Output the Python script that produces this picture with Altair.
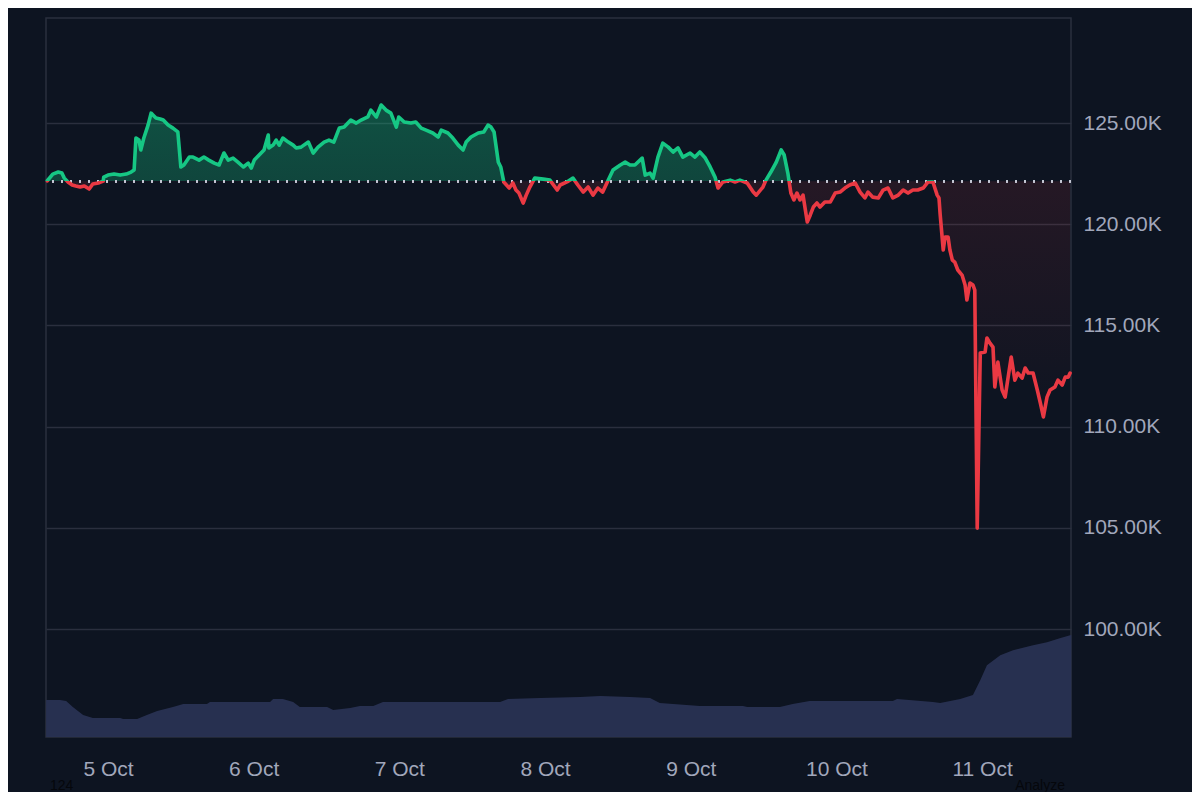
import altair as alt
import pandas as pd

# ---------------- data ----------------
START = pd.Timestamp("2025-10-04 14:00:00")

# hours after START
HOURS = [
    0.0, 0.9, 1.8, 2.4, 2.8, 3.4, 4.1, 4.7, 5.4, 6.1, 6.9, 7.5, 8.4, 9.2, 9.3, 10.0,
    11.0, 12.0, 13.0, 13.8, 14.3, 14.6, 15.1, 15.4, 15.9, 16.6, 17.1, 17.4, 17.9, 18.6,
    19.1, 19.9, 20.7, 21.5, 22.0, 22.5, 23.4, 24.0, 25.0, 25.8, 26.6, 27.5, 28.3, 29.1,
    29.8, 30.6, 31.4, 32.3, 33.1, 33.6, 34.1, 34.9, 35.7, 36.4, 36.5, 37.2, 37.7, 38.2,
    38.8, 39.7, 40.5, 41.0, 41.8, 43.0, 43.8, 44.6, 45.6, 46.4, 47.2, 48.1, 48.9, 50.0,
    50.9, 51.7, 52.8, 53.3, 54.2, 55.0, 55.8, 56.6, 57.5, 57.9, 58.8, 59.9, 60.7, 61.6,
    62.4, 63.5, 64.4, 64.9, 66.0, 66.8, 67.7, 68.5, 69.0, 69.8, 71.0, 71.9, 72.6, 73.1,
    73.6, 74.3, 74.7, 75.2, 76.1, 76.7, 77.2, 77.7, 78.4, 78.9, 79.5, 80.3, 81.7, 82.8,
    84.0, 84.5, 85.6, 86.6, 87.4, 88.3, 89.1, 89.9, 90.7, 91.5, 92.4, 93.2, 94.4, 95.2,
    96.0, 96.8, 98.0, 98.5, 99.3, 99.8, 100.6, 101.4, 102.3, 103.1, 103.9, 104.7, 105.9,
    106.7, 107.5, 108.4, 109.2, 110.0, 110.5, 111.3, 112.5, 113.3, 114.1, 115.3, 116.3,
    116.8, 117.9, 118.4, 119.2, 120.1, 120.9, 121.4, 122.0, 122.5, 123.0, 123.5, 124.0,
    124.5, 125.2, 125.7, 126.2, 126.8, 127.3, 128.1, 129.0, 129.8, 130.6, 131.4, 132.2,
    133.1, 133.9, 134.7, 135.2, 136.0, 136.9, 137.7, 138.5, 139.3, 140.2, 141.0, 141.8,
    142.6, 143.4, 144.3, 145.1, 145.9, 146.6, 146.9, 147.1, 147.6, 147.9, 148.4, 148.7,
    149.1, 149.5, 150.0, 150.7, 151.2, 151.5, 152.0, 152.5, 152.8, 153.2, 153.7, 154.5,
    154.8, 155.3, 155.8, 156.1, 156.6, 157.3, 157.8, 158.3, 158.8, 159.4, 159.9, 160.6,
    161.1, 161.6, 162.4, 163.1, 163.6, 164.1, 164.7, 165.2, 166.0, 166.5, 167.2, 167.7,
    168.2, 168.5,
]

# price in thousands of USD
PRICE_K = [
    122.15, 122.48, 122.58, 122.53, 122.28, 122.09, 121.94, 121.89, 121.84, 121.89, 121.74,
    121.99, 122.04, 122.13, 122.33, 122.43, 122.48, 122.43, 122.48, 122.58, 122.68, 124.26,
    124.16, 123.67, 124.26, 124.90, 125.49, 125.40, 125.25, 125.20, 125.15, 124.90, 124.75,
    124.56, 122.83, 122.93, 123.32, 123.32, 123.17, 123.32, 123.17, 123.02, 122.93, 123.52,
    123.17, 123.27, 123.07, 122.83, 123.02, 122.78, 123.17, 123.42, 123.67, 124.41, 123.77,
    123.91, 124.16, 123.91, 124.26, 124.06, 123.91, 123.77, 123.81, 124.06, 123.52, 123.81,
    124.06, 124.16, 124.06, 124.75, 124.80, 125.15, 125.00, 125.15, 125.30, 125.64, 125.30,
    125.89, 125.64, 125.49, 124.80, 125.30, 125.05, 125.00, 125.05, 124.75, 124.65, 124.51,
    124.31, 124.65, 124.51, 124.26, 123.91, 123.67, 124.06, 124.31, 124.51, 124.56, 124.90,
    124.80, 124.56, 123.07, 122.83, 122.09, 121.79, 122.04, 121.69, 121.54, 121.05, 121.44,
    121.84, 122.28, 122.23, 122.18, 121.69, 121.94, 122.09, 122.28, 121.94, 121.59, 121.84,
    121.44, 121.79, 121.59, 122.18, 122.68, 122.93, 123.07, 122.93, 122.93, 123.27, 122.43,
    122.53, 122.28, 123.32, 124.01, 123.81, 123.57, 123.77, 123.32, 123.52, 123.32, 123.57,
    123.27, 122.83, 122.33, 121.79, 122.09, 122.18, 122.09, 122.18, 122.04, 121.59, 121.44,
    121.84, 122.18, 122.58, 123.07, 123.67, 123.42, 122.53, 121.54, 121.20, 121.54, 121.20,
    121.44, 120.11, 120.46, 120.85, 121.05, 120.85, 121.10, 121.10, 121.54, 121.59, 121.79,
    121.94, 122.04, 121.59, 121.30, 121.59, 121.34, 121.30, 121.69, 121.79, 121.30, 121.44,
    121.69, 121.54, 121.69, 121.69, 121.79, 122.09, 122.09, 121.44, 121.30, 120.46, 118.73,
    119.37, 119.37, 118.73, 118.23, 118.13, 117.74, 117.49, 117.00, 116.26, 117.10, 117.00,
    116.75, 104.99, 113.64, 113.69, 114.38, 114.13, 113.93, 111.96, 113.19, 111.81, 111.46,
    112.45, 113.44, 112.30, 112.65, 112.40, 112.90, 112.65, 112.65, 111.81, 111.17, 110.48,
    111.46, 111.81, 111.96, 112.30, 112.06, 112.45, 112.45, 112.65,
]

# reference (opening) price, thousands of USD
BASE_K = 122.13

# 24h volume, billions of USD
VOL_HOURS = [
    -0.2, 2.1, 3.1, 4.2, 5.9, 7.5, 12.0, 12.5, 14.8, 16.4, 18.1, 20.7, 22.4, 26.3, 26.8,
    36.7, 37.2, 38.8, 40.5, 41.6, 46.1, 47.1, 49.9, 51.5, 53.7, 55.3, 64.7, 74.6, 75.9,
    81.2, 87.8, 91.1, 96.0, 99.3, 100.9, 107.5, 114.6, 115.3, 120.7, 122.8, 125.6, 139.3,
    140.0, 145.9, 147.1, 150.4, 152.5, 153.7, 154.8, 157.0, 159.1, 162.4, 164.7, 166.8,
    168.5, 168.7,
]
VOL_B = [
    70.3, 70.3, 68.4, 57.0, 41.8, 36.1, 36.1, 34.2, 34.2, 41.8, 49.4, 57.0, 62.7, 62.7, 66.5,
    66.5, 72.2, 72.2, 66.5, 57.0, 57.0, 51.3, 55.1, 58.9, 58.9, 66.5, 66.5, 66.5, 72.2,
    74.1, 76.0, 77.9, 76.0, 74.1, 64.6, 58.9, 58.9, 57.0, 57.0, 62.7, 68.4, 68.4,
    72.2, 66.5, 64.6, 72.2, 79.8, 108.3, 136.8, 155.8, 165.3, 174.8, 180.5, 188.1,
    193.8, 194.5,
]

Y_TICKS = [100000, 105000, 110000, 115000, 120000, 125000]
X_TICK_DAYS = [5, 6, 7, 8, 9, 10, 11]
FOOTER = ["124", "Analyze"]

# ---------------- styling ----------------
BG = "#0d1421"
GREEN = "#16c784"
RED = "#ea3943"
TEXT = "#a1a7bb"
GRID = "#2a2f3e"
VOLC = "#293153"
FONT = "Liberation Sans"

price_df = pd.DataFrame({
    "time": START + pd.to_timedelta(HOURS, unit="h"),
    "price": [p * 1000 for p in PRICE_K],
})
vol_df = pd.DataFrame({
    "time": START + pd.to_timedelta(VOL_HOURS, unit="h"),
    "volume": [v * 1e9 for v in VOL_B],
})
BASE = BASE_K * 1000

pmax, pmin = max(PRICE_K), min(PRICE_K)
f = (pmax - BASE_K) / (pmax - pmin)

x_scale = alt.Scale(domain=[
    alt.DateTime(year=2025, month=10, date=4, hours=13, minutes=47),
    alt.DateTime(year=2025, month=10, date=11, hours=14, minutes=39),
])
x_axis = alt.Axis(
    values=[alt.DateTime(year=2025, month=10, date=d) for d in X_TICK_DAYS],
    format="%-d %b", title=None, ticks=False, domain=False, grid=False,
    labelColor=TEXT, labelFontSize=21, labelFont=FONT, labelPadding=21,
)
x_enc = alt.X("time:T", scale=x_scale, axis=x_axis)
x_plain = alt.X("time:T", scale=x_scale)

y_scale = alt.Scale(domain=[94670, 130190], nice=False, zero=False)
y_axis = alt.Axis(
    orient="right", values=Y_TICKS, title=None, ticks=False, domain=False,
    labelExpr="format(datum.value / 1000, '.2f') + 'K'",
    labelColor=TEXT, labelFontSize=21, labelFont=FONT, labelPadding=12,
    grid=True, gridColor=GRID, gridWidth=1.5,
)

volume = alt.Chart(vol_df).mark_area(color=VOLC, opacity=0.95).encode(
    x=x_enc,
    y=alt.Y("volume:Q", axis=None, scale=alt.Scale(domain=[0, 1.37e12], nice=False)),
)

area_grad = alt.Gradient(
    gradient="linear", x1=0, x2=0, y1=0, y2=1,
    stops=[
        alt.GradientStop(color="rgba(22,199,132,0.34)", offset=0),
        alt.GradientStop(color="rgba(22,199,132,0.28)", offset=f),
        alt.GradientStop(color="rgba(234,57,67,0.11)", offset=f),
        alt.GradientStop(color="rgba(234,57,67,0.0)", offset=f + 0.72 * (1 - f)),
        alt.GradientStop(color="rgba(234,57,67,0.0)", offset=1),
    ],
)
line_grad = alt.Gradient(
    gradient="linear", x1=0, x2=0, y1=0, y2=1,
    stops=[
        alt.GradientStop(color=GREEN, offset=0),
        alt.GradientStop(color=GREEN, offset=f),
        alt.GradientStop(color=RED, offset=f),
        alt.GradientStop(color=RED, offset=1),
    ],
)

fill = alt.Chart(price_df).mark_area(fill=area_grad).encode(
    x=x_plain,
    y=alt.Y("price:Q", scale=y_scale, axis=y_axis),
    y2=alt.datum(BASE),
)
base_rule = alt.Chart(price_df).mark_rule(
    color="#c3c7d3", strokeDash=[2, 7], strokeWidth=2, opacity=0.85
).encode(y=alt.datum(BASE))
line = alt.Chart(price_df).mark_line(
    stroke=line_grad, strokeWidth=3.6, strokeJoin="round", strokeCap="round"
).encode(
    x=x_plain,
    y=alt.Y("price:Q", scale=y_scale),
)

price_layer = alt.layer(fill, base_rule, line)

foot_left = alt.Chart(pd.DataFrame({"t": [FOOTER[0]]})).mark_text(
    align="left", baseline="alphabetic", fontSize=14, font=FONT, color="#05070c"
).encode(x=alt.value(4), y=alt.value(772), text="t:N")
foot_right = alt.Chart(pd.DataFrame({"t": [FOOTER[1]]})).mark_text(
    align="right", baseline="alphabetic", fontSize=14, font=FONT, color="#05070c"
).encode(x=alt.value(1019), y=alt.value(772), text="t:N")

chart = alt.layer(volume, price_layer, foot_left, foot_right).resolve_scale(
    y="independent"
).properties(
    width=1025, height=719,
    padding={"left": 38, "top": 10, "right": 121, "bottom": 55},
    autosize=alt.AutoSizeParams(type="none"),
    background=BG,
).configure_view(
    stroke=GRID, strokeWidth=1.5,
)

chart.save("out.html", embed_options={"renderer": "svg", "actions": False})
